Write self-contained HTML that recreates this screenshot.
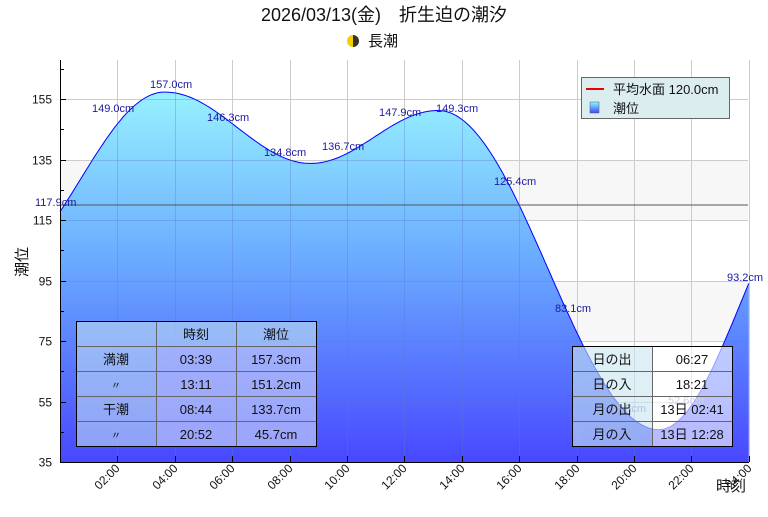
<!DOCTYPE html>
<html><head><meta charset="utf-8"><style>
body{margin:0;background:#fff;width:768px;height:512px;overflow:hidden}
svg text{font-family:"Liberation Sans","Noto Sans CJK JP",sans-serif}
</style></head><body>
<svg id="s" width="768" height="512" xmlns="http://www.w3.org/2000/svg">
<defs>
<linearGradient id="g" gradientUnits="userSpaceOnUse" x1="0" y1="60" x2="0" y2="462">
<stop offset="0" stop-color="#a0ffff"/><stop offset="0.5" stop-color="#6aaaff"/><stop offset="1" stop-color="#4848ff"/></linearGradient>
<linearGradient id="lg" x1="0" y1="0" x2="0" y2="1"><stop offset="0" stop-color="#8ff"/><stop offset="1" stop-color="#44f"/></linearGradient>
<clipPath id="cp"><path id="cpp"/></clipPath>
</defs>
<text x="384" y="21" font-size="18" text-anchor="middle" fill="#111">2026/03/13(金)　折生迫の潮汐</text>
<circle cx="353" cy="41" r="6" fill="#f0d000"/><path d="M353 35 A6 6 0 0 1 353 47 Z" fill="#333"/>
<text x="368" y="46" font-size="15" fill="#111">長潮</text>
<rect x="60" y="160" width="688" height="60" fill="#f7f7f7"/>
<rect x="60" y="281" width="688" height="60" fill="#f7f7f7"/>
<g id="grid" stroke="#ccc" stroke-width="1"></g>
<path id="fill" fill="url(#g)"/>
<path id="line" fill="none" stroke="#00f" stroke-width="1"/>
<g id="grid2" stroke="#5a7acc" stroke-opacity="0.35" stroke-width="1" clip-path="url(#cp)"></g>
<line x1="60" y1="205" x2="748" y2="205" stroke="#555" stroke-width="1"/>
<g font-size="11" fill="#1a1aa0">
<text x="35" y="206">117.9cm</text><text x="92" y="112">149.0cm</text><text x="150" y="88">157.0cm</text>
<text x="207" y="121">146.3cm</text><text x="264" y="156">134.8cm</text><text x="322" y="150">136.7cm</text>
<text x="379" y="116">147.9cm</text><text x="436" y="112">149.3cm</text><text x="494" y="185">125.4cm</text>
<text x="555" y="312">83.1cm</text><text x="727" y="281">93.2cm</text><text x="668" y="404" fill="#8888cc">52.6cm</text><text x="610" y="412" fill="#8888cc">45.8cm</text>
</g>
<g id="axes" stroke="#000" stroke-width="1"></g>
<g id="lab" font-size="12" fill="#111"></g>
<text x="716" y="491" font-size="15" fill="#111">時刻</text>
<text transform="translate(27,262) rotate(-90)" font-size="15" fill="#111" text-anchor="middle">潮位</text>
<rect x="581.5" y="77.5" width="148" height="41" fill="#dcedf0" stroke="#666"/>
<line x1="586" y1="89" x2="604" y2="89" stroke="#e00" stroke-width="2"/>
<text x="613" y="94" font-size="13" fill="#111">平均水面 120.0cm</text>
<rect x="590" y="102" width="9" height="11" fill="url(#lg)" stroke="#555" stroke-width="0.5"/>
<text x="613" y="113" font-size="13" fill="#111">潮位</text>
<g font-size="13" fill="#111" text-anchor="middle">
<rect x="76.5" y="321.5" width="240" height="125" fill="#c8e6f0" fill-opacity="0.55" stroke="#000"/>
<rect x="156.5" y="346.5" width="160" height="100" fill="#a8a8ff" fill-opacity="0.5"/>
<g stroke="#666"><line x1="156.5" y1="321.5" x2="156.5" y2="446"/><line x1="236.5" y1="321.5" x2="236.5" y2="446"/>
<line x1="77" y1="346.5" x2="316" y2="346.5"/><line x1="77" y1="371.5" x2="316" y2="371.5"/><line x1="77" y1="396.5" x2="316" y2="396.5"/><line x1="77" y1="421.5" x2="316" y2="421.5"/></g>
<rect x="76.5" y="321.5" width="240" height="125" fill="none" stroke="#000"/>
<text x="196" y="339">時刻</text><text x="276" y="339">潮位</text>
<text x="116" y="364">満潮</text><text x="196" y="364">03:39</text><text x="276" y="364">157.3cm</text>
<text x="116" y="389" font-size="10">〃</text><text x="196" y="389">13:11</text><text x="276" y="389">151.2cm</text>
<text x="116" y="414">干潮</text><text x="196" y="414">08:44</text><text x="276" y="414">133.7cm</text>
<text x="116" y="439" font-size="10">〃</text><text x="196" y="439">20:52</text><text x="276" y="439">45.7cm</text>
<rect x="572.5" y="346.5" width="80" height="100" fill="#c8e6f0" fill-opacity="0.6"/>
<rect x="652.5" y="346.5" width="80" height="100" fill="#fff" fill-opacity="0.6"/>
<g stroke="#666"><line x1="652.5" y1="346.5" x2="652.5" y2="446"/>
<line x1="573" y1="371.5" x2="732" y2="371.5"/><line x1="573" y1="396.5" x2="732" y2="396.5"/><line x1="573" y1="421.5" x2="732" y2="421.5"/></g>
<rect x="572.5" y="346.5" width="160" height="100" fill="none" stroke="#000"/>
<text x="612" y="364">日の出</text><text x="692" y="364">06:27</text>
<text x="612" y="389">日の入</text><text x="692" y="389">18:21</text>
<text x="612" y="414">月の出</text><text x="692" y="414">13日 02:41</text>
<text x="612" y="439">月の入</text><text x="692" y="439">13日 12:28</text>
</g>
</svg>
<script>
var X=t=>60+t*28.7, Y=v=>462-(v-35)*3.025;
var ex=[[-2.2,100],[3.65,157.3],[8.73,133.7],[13.18,151.2],[20.87,45.7],[26.5,128]];
function h(t){for(var i=0;i<ex.length-1;i++){var a=ex[i],b=ex[i+1];if(t>=a[0]&&t<=b[0]){var f=(t-a[0])/(b[0]-a[0]);return a[1]+(b[1]-a[1])*(1-Math.cos(Math.PI*f))/2;}}}
var d="";for(var t=0;t<=24.001;t+=0.1){d+=(d?"L":"M")+X(t).toFixed(1)+" "+Y(h(t)).toFixed(1);}
document.getElementById("line").setAttribute("d",d);
document.getElementById("fill").setAttribute("d",d+"L748.8 462L60 462Z");
document.getElementById("cpp").setAttribute("d",d+"L748.8 462L60 462Z");
var g=document.getElementById("grid"),g2=document.getElementById("grid2"),ax=document.getElementById("axes"),lb=document.getElementById("lab");
var NS="http://www.w3.org/2000/svg";
function L(p,x1,y1,x2,y2){var l=document.createElementNS(NS,"line");l.setAttribute("x1",x1);l.setAttribute("y1",y1);l.setAttribute("x2",x2);l.setAttribute("y2",y2);p.appendChild(l);}
function T(x,y,s,tr,anc){var e=document.createElementNS(NS,"text");e.setAttribute("x",x);e.setAttribute("y",y);if(tr)e.setAttribute("transform",tr);e.setAttribute("text-anchor",anc||"end");e.textContent=s;lb.appendChild(e);}
for(var v=55;v<=155;v+=20){var y=Math.round(Y(v))+0.5;L(g,60,y,748,y);L(g2,60,y,748,y);}
for(var k=1;k<=12;k++){var x=Math.round(X(2*k))+0.5;L(g,x,60,x,462);L(g2,x,60,x,462);}
L(ax,60.5,60,60.5,462);L(ax,60,462.5,749,462.5);
for(var v=35;v<=165;v+=10){var y=Math.round(Y(v))+0.5;L(ax,60,y,(v-35)%20?64:66,y);if((v-35)%20==0)T(52,y+4,String(v));}
for(var k=1;k<=12;k++){var x=Math.round(X(2*k))+0.5;L(ax,x,456,x,462);var s=(2*k<10?"0":"")+(2*k)+":00";T(x+3,469,s,"rotate(-45 "+(x+3)+" 469)");}
</script>
</body></html>
